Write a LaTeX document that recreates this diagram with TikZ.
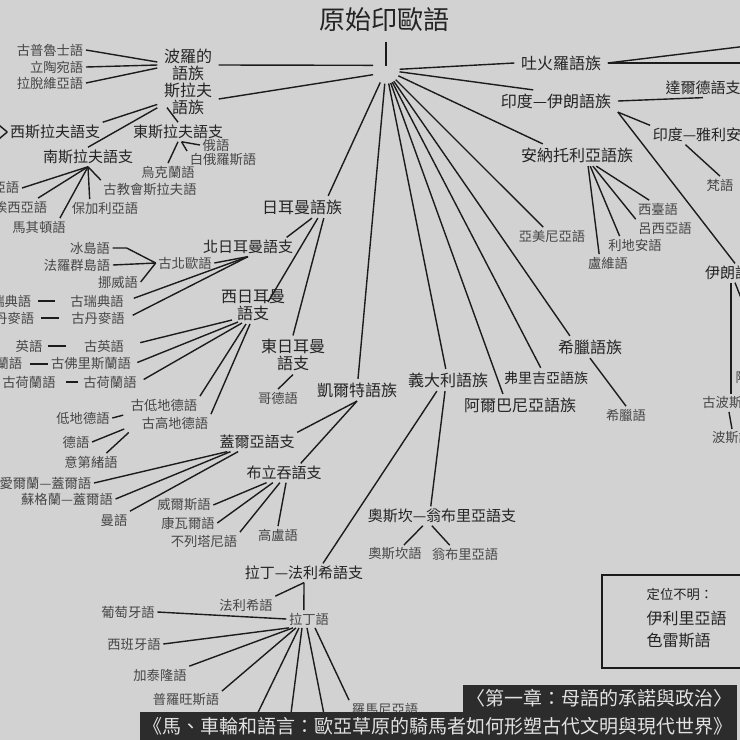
\documentclass[tikz,border=0pt]{standalone}
\usepackage{fontspec}
\setmainfont{Noto Sans CJK TC}
\usetikzlibrary{calc}
\definecolor{paper}{RGB}{210,210,210}
\definecolor{ink}{RGB}{36,36,36}
\definecolor{inkl}{RGB}{70,70,70}
\definecolor{wire}{RGB}{28,28,28}
\definecolor{bar}{RGB}{44,44,44}
\definecolor{bartext}{RGB}{226,226,226}

\begin{document}
\begin{tikzpicture}[x=1pt, y=-1pt, line width=1.4pt, draw=wire]
    \tikzstyle{toptitle}=[font=\fontsize{26}{28}\selectfont, text=ink, inner sep=2pt]
    \tikzstyle{fam}=[font=\fontsize{16}{17}\selectfont, text=ink, align=center, inner xsep=6pt, inner ysep=3pt]
    \tikzstyle{branch}=[font=\fontsize{15}{16}\selectfont, text=ink, inner sep=2pt]
    \tikzstyle{lang}=[font=\fontsize{13.3}{14}\selectfont, text=inkl, inner sep=2pt]
    \tikzstyle{hubring}=[circle, minimum size=26pt, inner sep=0pt]
    \tikzstyle{capbar}=[fill=bar, text=bartext, font=\fontsize{19}{20}\selectfont, inner xsep=4pt, inner ysep=0pt, minimum height=28pt]

    \path[use as bounding box, fill=paper] (0,0) rectangle (740,740);
    \clip (0,0) rectangle (740,740);

    % root
    \node[toptitle] (proto) at (384,20) {原始印歐語};
    \node[hubring] (hub) at (386,70) {};

    % baltic / slavic
    \node[fam] (baltic) at (188,65) {波羅的\\語族};
    \node[fam] (slavic) at (188,99) {斯拉夫\\語族};
    \node[lang, anchor=east] (prussian) at (86,50) {古普魯士語};
    \node[lang, anchor=east] (lithuan) at (86,67) {立陶宛語};
    \node[lang, anchor=east] (latvian) at (86,83) {拉脫維亞語};
    \node[branch] (westslav) at (55,132) {西斯拉夫語支};
    \node[branch] (eastslav) at (178,132) {東斯拉夫語支};
    \node[branch] (southslav) at (88,157) {南斯拉夫語支};
    \node[lang] (russian) at (216,145) {俄語};
    \node[lang] (belarus) at (223,160) {白俄羅斯語};
    \node[lang] (ukrain) at (168,172) {烏克蘭語};
    \node[lang, anchor=east] (slovene) at (22,188) {斯洛維尼亞語};
    \node[lang, anchor=east] (serbcro) at (50,207) {塞爾維亞—克羅埃西亞語};
    \node[lang] (maced) at (39,227) {馬其頓語};
    \node[lang] (bulgar) at (105,208) {保加利亞語};
    \node[lang] (churchsl) at (150,189) {古教會斯拉夫語};
    \coordinate (westslavA) at (-12,116);
    \coordinate (westslavB) at (-12,148);

    % germanic
    \node[fam] (germanic) at (302,207) {日耳曼語族};
    \node[branch] (northgerm) at (248,247) {北日耳曼語支};
    \node[fam] (westgerm) at (253,305) {西日耳曼\\語支};
    \node[fam] (eastgerm) at (293,355) {東日耳曼\\語支};
    \node[lang] (gothic) at (278,398) {哥德語};
    \node[lang] (oldnorse) at (185,263) {古北歐語};
    \node[lang] (iceland) at (90,248) {冰島語};
    \node[lang] (faroese) at (77,265) {法羅群島語};
    \node[lang] (norweg) at (118,282) {挪威語};
    \node[lang] (oldswed) at (97,301) {古瑞典語};
    \node[lang, anchor=east] (swedish) at (34,301) {瑞典語};
    \node[lang] (olddan) at (98,318) {古丹麥語};
    \node[lang, anchor=east] (danish) at (37,318) {丹麥語};
    \node[lang] (oldeng) at (104,346) {古英語};
    \node[lang] (english) at (29,346) {英語};
    \node[lang] (oldfris) at (91,364) {古佛里斯蘭語};
    \node[lang, anchor=east] (frisian) at (25,364) {弗里斯蘭語};
    \node[lang] (olddutch) at (110,382) {古荷蘭語};
    \node[lang] (dutch) at (29,382) {古荷蘭語};
    \node[lang] (oldlowg) at (164,405) {古低地德語};
    \node[lang] (oldhighg) at (175,423) {古高地德語};
    \node[lang] (lowgerm) at (83,418) {低地德語};
    \node[lang] (german) at (76,442) {德語};
    \node[lang] (yiddish) at (91,462) {意第緒語};

    % celtic
    \node[fam] (celtic) at (357,390) {凱爾特語族};
    \node[branch] (goidelic) at (257,442) {蓋爾亞語支};
    \node[branch] (brythonic) at (284,473) {布立吞語支};
    \node[lang, anchor=east] (irish) at (94,483) {愛爾蘭—蓋爾語};
    \node[lang] (scots) at (67,499) {蘇格蘭—蓋爾語};
    \node[lang] (manx) at (114,520) {曼語};
    \node[lang] (welsh) at (184,505) {威爾斯語};
    \node[lang] (cornish) at (188,523) {康瓦爾語};
    \node[lang] (breton) at (204,541) {不列塔尼語};
    \node[lang] (gaulish) at (278,535) {高盧語};

    % italic
    \node[fam] (italic) at (448,380) {義大利語族};
    \node[branch] (oscumb) at (442,516) {奧斯坎—翁布里亞語支};
    \node[lang] (oscan) at (395,554) {奧斯坎語};
    \node[lang] (umbrian) at (465,554) {翁布里亞語};
    \node[branch] (latfal) at (304,573) {拉丁—法利希語支};
    \node[lang] (faliscan) at (246,605) {法利希語};
    \node[lang] (latin) at (309,619) {拉丁語};
    \node[lang] (portug) at (128,612) {葡萄牙語};
    \node[lang] (spanish) at (134,644) {西班牙語};
    \node[lang] (catalan) at (160,675) {加泰隆語};
    \node[lang] (provenc) at (186,700) {普羅旺斯語};
    \node[lang] (romanian) at (385,709) {羅馬尼亞語};
    \coordinate (latinA) at (235,760);
    \coordinate (latinB) at (285,760);
    \coordinate (latinC) at (333,760);

    % east and south
    \node[fam] (tochar) at (561,63) {吐火羅語族};
    \coordinate (tocharA) at (780,42);
    \coordinate (tocharB) at (780,63);
    \node[fam] (indoiran) at (556,101) {印度—伊朗語族};
    \node[branch] (dardic) at (703,88) {達爾德語支};
    \node[branch] (indoaryan) at (712,135) {印度—雅利安語支};
    \node[lang] (sanskrit) at (720,185) {梵語};
    \node[branch] (iranian) at (735,273) {伊朗語支};
    \node[lang, anchor=west] (avestan) at (733,378) {阿維斯陀語};
    \node[lang] (oldpers) at (729,403) {古波斯語};
    \node[lang] (persian) at (732,438) {波斯語};
    \node[fam] (anatol) at (577,155) {安納托利亞語族};
    \node[lang] (hittite) at (658,209) {西臺語};
    \node[lang] (lycian) at (665,228) {呂西亞語};
    \node[lang] (lydian) at (635,245) {利地安語};
    \node[lang] (luwian) at (608,263) {盧維語};
    \node[lang] (armenian) at (552,236) {亞美尼亞語};
    \node[fam] (greekfam) at (590,347) {希臘語族};
    \node[lang] (greek) at (626,415) {希臘語};
    \node[fam, font=\fontsize{14}{15}\selectfont] (phrygian) at (546,378) {弗里吉亞語族};
    \node[fam] (albanian) at (520,405) {阿爾巴尼亞語族};

    % root links
    \draw[shorten <=7pt, shorten >=4pt] (proto.south -| hub) -- (hub.center);
    \draw (hub.160) -- (baltic.east);
    \draw (hub.200) -- (slavic.east);
    \draw (hub) -- (tochar.west);
    \draw (hub) -- (indoiran.154);
    \draw (hub) -- (anatol.162);
    \draw (hub) -- (armenian);
    \draw (hub) -- (greekfam.151);
    \draw (hub) -- (phrygian);
    \draw (hub) -- (albanian.147);
    \draw (hub) -- (italic);
    \draw (hub) -- (celtic);
    \draw (hub) -- (germanic.23);

    % baltic and slavic links
    \draw (prussian.east) -- ([yshift=3pt]baltic.west);
    \draw (lithuan.east) -- (baltic.west);
    \draw (latvian.east) -- ([yshift=-3pt]baltic.west);
    \draw (slavic.190) -- (westslav.north east);
    \draw (slavic.196) -- (southslav.north);
    \draw ($(slavic.south)+(-21,-11)$) -- (eastslav.north);
    \draw (westslav.west) -- (westslavA);
    \draw (westslav.west) -- (westslavB);
    \draw (eastslav.-70) -- (russian.west);
    \draw (eastslav.-70) -- (belarus.north west);
    \draw (eastslav.south) -- (ukrain.north);
    \draw (southslav.south) -- (slovene.east);
    \draw (southslav.south) -- ($(serbcro.north east)+(-12,0)$);
    \draw (southslav.south) -- (maced.23);
    \draw (southslav.south) -- (bulgar.150);
    \draw (southslav.south) -- (churchsl.north west);

    % germanic links
    \draw (germanic.-48) -- (northgerm.14);
    \draw (germanic.-35) -- ($(westgerm)+(15,-3)$);
    \draw (germanic.-27) -- (eastgerm.north);
    \draw (eastgerm.south) -- (gothic.north);
    \draw (iceland.east) -- ++(14,0) -- (oldnorse.west);
    \draw (faroese.east) -- (oldnorse.west);
    \draw (norweg.east) -- (oldnorse.west);
    \draw (oldnorse.east) -- (northgerm.south);
    \draw[shorten <=8pt] (oldswed.east) -- (northgerm.south);
    \draw[shorten <=6pt] (olddan.east) -- (northgerm.south);
    \draw[shorten <=4pt, shorten >=13pt] (swedish.east) -- (oldswed.west);
    \draw[shorten <=4pt, shorten >=10pt] (danish.east) -- (olddan.west);
    \draw[shorten <=14pt] (oldeng.east) -- ($(westgerm)+(-21,15)$);
    \draw[shorten <=4pt] (oldfris.east) -- ($(westgerm)+(-15,17)$);
    \draw[shorten <=5pt] (olddutch.east) -- ($(westgerm)+(-11,18)$);
    \draw (oldlowg.north east) -- ($(westgerm)+(-7,19)$);
    \draw (oldhighg.north east) -- ($(westgerm)+(-3,19)$);
    \draw[shorten <=3pt, shorten >=15pt] (english.east) -- (oldeng.west);
    \draw[shorten <=5pt] (frisian.east) -- (oldfris.west);
    \draw[shorten <=8pt, shorten >=3pt] (dutch.east) -- (olddutch.west);
    \draw[shorten >=5pt] (lowgerm.east) -- (oldlowg.south west);
    \draw[shorten >=16pt] (german.east) -- (oldhighg.west);
    \draw[shorten >=14pt] (yiddish.30) -- (oldhighg.west);

    % celtic links
    \draw (celtic.south) -- (goidelic.north east);
    \draw (celtic.south) -- (brythonic.30);
    \draw (irish.east) -- (goidelic.198);
    \draw (scots.east) -- (goidelic.200);
    \draw (manx.north east) -- (goidelic.207);
    \draw (welsh.east) -- (brythonic.209);
    \draw (cornish.east) -- (brythonic.221);
    \draw (breton.north east) -- (brythonic.247);
    \draw (gaulish.north) -- (brythonic.282);

    % italic links
    \draw (italic.225) -- (latfal.27);
    \draw (italic.255) -- (oscumb.139);
    \draw (oscumb.207) -- (oscan.45);
    \draw (oscumb.224) -- (umbrian.150);
    \draw (latfal.south) -- (faliscan.north east);
    \draw (latfal.south) -- (latin.120);
    \draw (portug.east) -- (latin.west);
    \draw (spanish.east) -- ($(latin.south)+(-20,0)$);
    \draw (catalan.north east) -- ($(latin.south)+(-16,0)$);
    \draw (provenc.north east) -- ($(latin.south)+(-13,0)$);
    \draw ($(latin.south)+(-10,0)$) -- (latinA);
    \draw ($(latin.south)+(-7,0)$) -- (latinB);
    \draw ($(latin.south)+(-2,0)$) -- (latinC);
    \draw ($(latin.south)+(6,0)$) -- (romanian.north west);

    % east links
    \draw (tochar.east) -- (tocharA);
    \draw (tochar.east) -- (tocharB);
    \draw (indoiran.east) -- (dardic.south);
    \draw (indoiran.south east) -- (indoaryan.north west);
    \draw (indoiran.south east) -- (iranian.north);
    \draw (indoaryan.200) -- (sanskrit.north);
    \draw ([xshift=-4pt]iranian.south) -- ([xshift=2pt]oldpers.north);
    \draw (iranian.south) -- (avestan.north);
    \draw (oldpers.south) -- (persian.north);
    \draw (anatol.-30) -- (hittite.135);
    \draw (anatol.-35) -- (lycian.north west);
    \draw (anatol.-40) -- (lydian.150);
    \draw (anatol.-45) -- (luwian.135);
    \draw (greekfam.south) -- (greek.north);

    % unplaced languages
    \node[draw, line width=1.6pt, anchor=north west, minimum width=180pt, minimum height=93pt] (unplaced) at (601,574) {};
    \node[lang, text=ink, anchor=west] (unplacedhead) at (644,594) {定位不明：};
    \node[fam, anchor=west, inner xsep=2pt] (illyrian) at (644,618) {伊利里亞語};
    \node[fam, anchor=west, inner xsep=2pt] (thracian) at (644,640) {色雷斯語};

    % captions
    \node[capbar, anchor=west] (chapter) at (462,698.5) {〈第一章：母語的承諾與政治〉};
    \node[capbar, anchor=west] (booktitle) at (139,726) {《馬、車輪和語言：歐亞草原的騎馬者如何形塑古代文明與現代世界》};
\end{tikzpicture}
\end{document}
